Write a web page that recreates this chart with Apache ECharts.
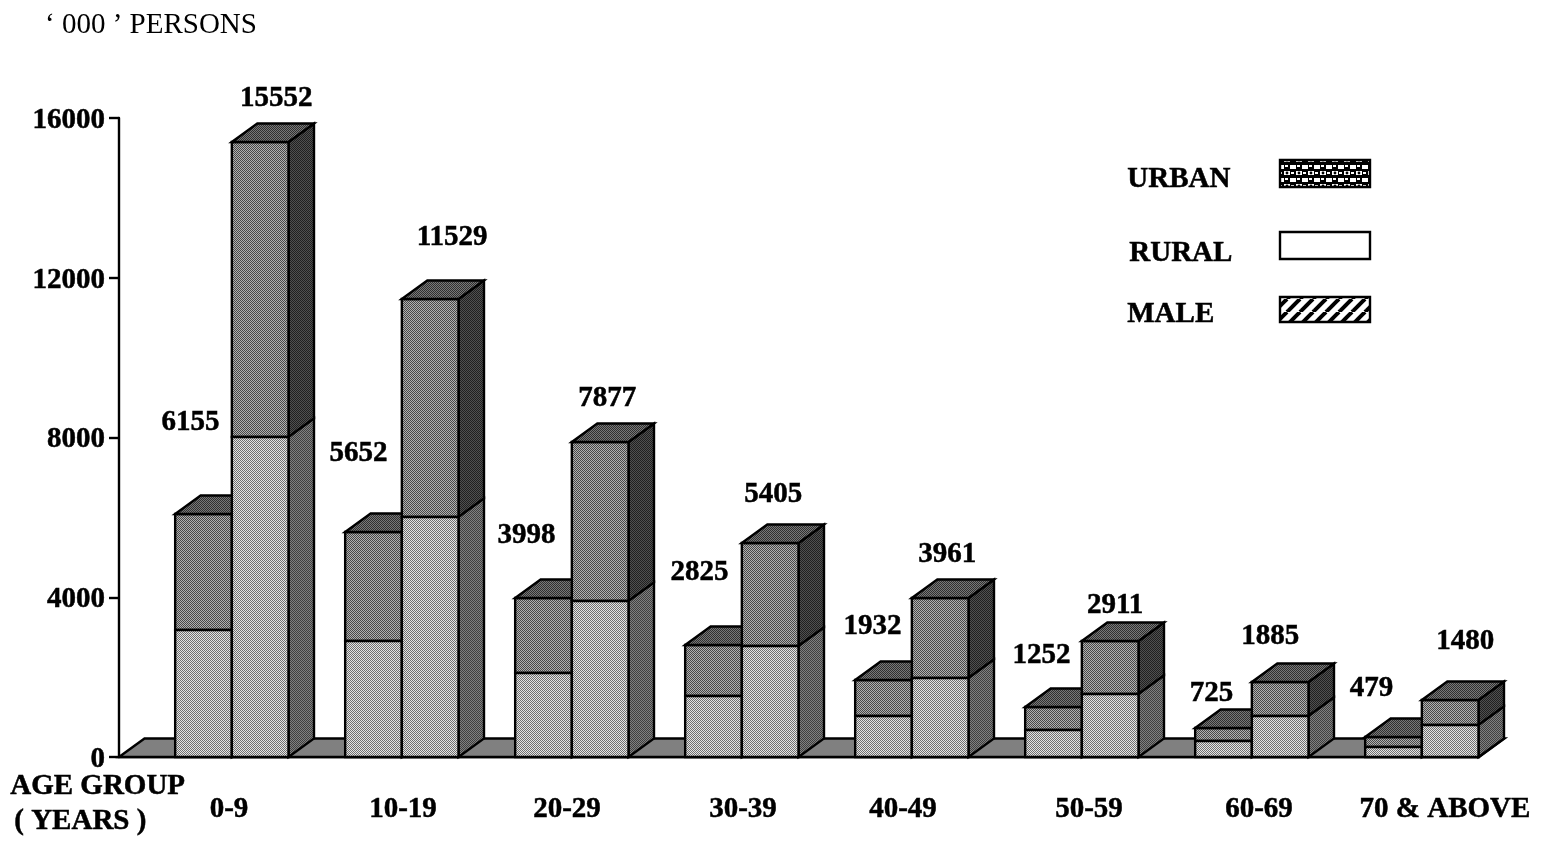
<!DOCTYPE html>
<html>
<head>
<meta charset="utf-8">
<style>html,body{margin:0;padding:0;background:#fff}#c{width:1543px;height:842px}</style>
<script src="https://cdn.jsdelivr.net/npm/echarts@6/dist/echarts.min.js"></script>
</head>
<body>
<div id="c"></div>
<script>
// ---- data ----
var ageGroups = ['0-9','10-19','20-29','30-39','40-49','50-59','60-69','70 & ABOVE'];
var yTicks = [0,4000,8000,12000,16000];
// drawn heights of the stacked segments
var urbanLower = [3180,2904,2103,1527,1027,676,400,250];
var urbanUpper = [2904,2729,1878,1277,901,576,326,250];
var ruralLower = [8012,6009,3906,2779,1978,1577,1027,801];
var ruralUpper = [7386,5458,3981,2579,2003,1327,851,626];
// printed labels
var urbanLabels = [6155,5652,3998,2825,1932,1252,725,479];
var ruralLabels = [15552,11529,7877,5405,3961,2911,1885,1480];

// ---- layout (pixels) ----
var depthX = 25.5, depthY = 18.5;
var urbanLabelOffset = [[-13,-92],[-15,-79],[-17,-62],[-14,-72],[-11,-53],[-12,-51],[-12,-34],[-22,-49]];
var ruralLabelOffset = [[16,-44],[22,-62],[7,-43],[3,-48],[7,-43],[5,-36],[-10,-45],[15,-58]];
var axisLabelShift = [25,29,23,29,19,35,35,51];
var FONT = '"Liberation Serif","Times New Roman",serif';
var HEAVY = 0.5;

// ---- patterns ----
function dither(a,b){
  var c=document.createElement('canvas');c.width=2;c.height=2;
  var x=c.getContext('2d');
  x.fillStyle=a;x.fillRect(0,0,2,2);
  x.fillStyle=b;x.fillRect(0,0,1,1);x.fillRect(1,1,1,1);
  return {image:c,repeat:'repeat'};
}
function dotsPattern(){
  var c=document.createElement('canvas');c.width=12;c.height=13;
  var x=c.getContext('2d');
  x.fillStyle='#000';x.fillRect(0,0,12,13);
  x.fillStyle='#fff';
  x.fillRect(0,2,6,4);x.fillRect(6,9,6,4);
  x.fillRect(7,3,3,2);x.fillRect(1,9,3,2);
  x.fillStyle='#000';
  x.beginPath();x.arc(3,4,1.4,0,7);x.fill();
  return {image:c,repeat:'repeat'};
}
function stripesPattern(){
  var c=document.createElement('canvas');c.width=13;c.height=13;
  var x=c.getContext('2d');
  x.fillStyle='#fff';x.fillRect(0,0,13,13);
  x.strokeStyle='#000';x.lineWidth=4;
  for(var i=-13;i<=26;i+=13){x.beginPath();x.moveTo(i,13);x.lineTo(i+13,0);x.stroke();}
  return {image:c,repeat:'repeat'};
}
var fill = {
  lowerFront: dither('#e4e4e4','#707070'),
  lowerSide:  dither('#808080','#404040'),
  upperFront: dither('#b0b0b0','#484848'),
  upperSide:  dither('#505050','#202020'),
  top:        dither('#787878','#303030')
};

function poly(points,f){
  return {type:'polygon',shape:{points:points},style:{fill:f,stroke:'#000',lineWidth:2.4,lineJoin:'miter'}};
}
function box(x0,x1,y0,y1,fFront,fSide,withTop){
  var out=[
    poly([[x1,y0],[x1+depthX,y0-depthY],[x1+depthX,y1-depthY],[x1,y1]],fSide),
    poly([[x0,y0],[x1,y0],[x1,y1],[x0,y1]],fFront)
  ];
  if(withTop) out.push(poly([[x0,y1],[x0+depthX,y1-depthY],[x1+depthX,y1-depthY],[x1,y1]],fill.top));
  return out;
}
function stackBar(api,i,lower,upper,x0,x1){
  var y0=api.coord([i,0])[1], y1=api.coord([i,lower])[1], y2=api.coord([i,lower+upper])[1];
  return box(x0,x1,y1,y2,fill.upperFront,fill.upperSide,true).concat(box(x0,x1,y0,y1,fill.lowerFront,fill.lowerSide,false));
}
function valueText(text,x,y){
  return {type:'text',z2:50,style:{text:String(text),x:x,y:y,align:'center',verticalAlign:'middle',
    font:'bold 29px '+FONT,fill:'#000',stroke:'#000',lineWidth:HEAVY}};
}
function renderBars(params,api){
  var i=api.value(0);
  var c=api.coord([i,0]);
  var band=api.size([1,0])[0];
  var left=c[0]-band/2+band/3-0.5;
  var w=(band*2/3)/2;
  var kids=[];
  kids=kids.concat(stackBar(api,i,urbanLower[i],urbanUpper[i],left,left+w));
  kids=kids.concat(stackBar(api,i,ruralLower[i],ruralUpper[i],left+w,left+2*w));
  var uTop=api.coord([i,urbanLower[i]+urbanUpper[i]])[1];
  var rTop=api.coord([i,ruralLower[i]+ruralUpper[i]])[1];
  kids.push(valueText(urbanLabels[i],left+w/2+urbanLabelOffset[i][0],uTop+urbanLabelOffset[i][1]));
  kids.push(valueText(ruralLabels[i],left+1.5*w+ruralLabelOffset[i][0],rTop+ruralLabelOffset[i][1]));
  return {type:'group',children:kids};
}
function renderFloor(params,api){
  var a=api.coord([0,0]), band=api.size([1,0])[0];
  var x0=a[0]-band/2, x1=x0+band*ageGroups.length, y=a[1];
  return poly([[x0,y],[x0+depthX,y-depthY],[x1+depthX,y-depthY],[x1,y]],'#808080');
}

var rich={};
axisLabelShift.forEach(function(s,i){
  rich['c'+i]={fontFamily:FONT,fontSize:29,fontWeight:'bold',color:'#000',
    textBorderColor:'#000',textBorderWidth:HEAVY,padding:[0,0,0,s*2]};
});
function heavyText(t,l,tp){
  return {type:'text',left:l,top:tp,style:{text:t,font:'bold 29px '+FONT,fill:'#000',stroke:'#000',lineWidth:HEAVY}};
}

var chart=echarts.init(document.getElementById('c'),null,{renderer:'canvas'});
chart.setOption({
  animation:false,
  backgroundColor:'#fff',
  title:{text:'\u2018 000 \u2019 PERSONS',left:45,top:11,textStyle:{fontFamily:FONT,fontSize:29,fontWeight:'normal',color:'#000'},padding:0},
  grid:{left:119,right:64,top:118,bottom:85,containLabel:false},
  xAxis:{type:'category',data:ageGroups,
    axisLine:{lineStyle:{color:'#000',width:2.4}},axisTick:{show:false},
    axisLabel:{interval:0,margin:38,hideOverlap:false,
      formatter:function(v,i){return '{c'+i+'|'+v+'}';},rich:rich}},
  yAxis:{type:'value',min:0,max:16000,interval:4000,splitLine:{show:false},
    axisLine:{show:true,lineStyle:{color:'#000',width:2.4}},
    axisTick:{show:true,length:10,lineStyle:{color:'#000',width:2.4}},
    axisLabel:{margin:14,color:'#000',
      formatter:function(v){return yTicks.indexOf(v)>=0?'{t|'+v+'}':'';},
      rich:{t:{fontFamily:FONT,fontSize:29,fontWeight:'bold',color:'#000',
        textBorderColor:'#000',textBorderWidth:HEAVY,padding:[5,0,0,0]}}}},
  series:[
    {type:'custom',name:'floor',z:1,data:[[0,0]],renderItem:renderFloor,silent:true,clip:false,encode:{x:0,y:1}},
    {type:'custom',name:'bars',z:2,data:ageGroups.map(function(g,i){return [i,urbanLower[i]+urbanUpper[i]];}),
      renderItem:renderBars,clip:false,encode:{x:0,y:1}}
  ],
  graphic:{elements:[
    heavyText('AGE GROUP',10,772),
    heavyText('( YEARS )',14,807),
    heavyText('URBAN',1127,165),
    heavyText('RURAL',1129,239),
    heavyText('MALE',1127,300),
    {type:'rect',shape:{x:1280,y:160,width:90,height:27},style:{fill:dotsPattern(),stroke:'#000',lineWidth:2.4}},
    {type:'rect',shape:{x:1280,y:232,width:90,height:27},style:{fill:'#fff',stroke:'#000',lineWidth:2.4}},
    {type:'rect',shape:{x:1280,y:297,width:90,height:25},style:{fill:stripesPattern(),stroke:'#000',lineWidth:2.4}}
  ]}
});
</script>
</body>
</html>
